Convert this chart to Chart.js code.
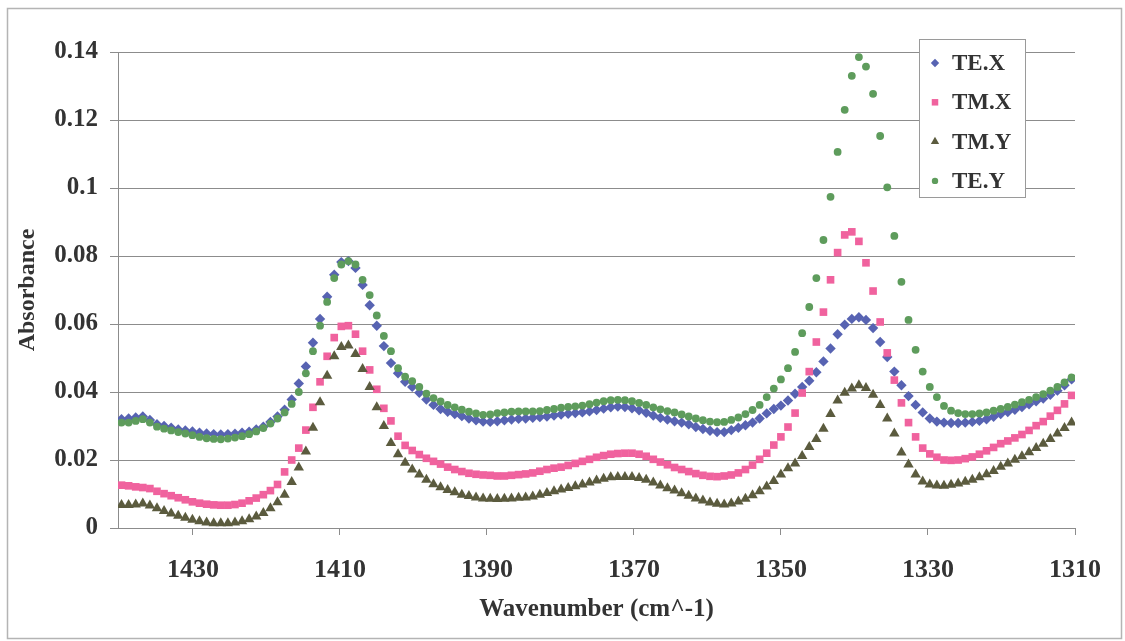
<!DOCTYPE html>
<html>
<head>
<meta charset="utf-8">
<title>Absorbance vs wavenumber</title>
<script src="https://cdn.jsdelivr.net/npm/chart.js@4/dist/chart.umd.min.js"></script>
<style>
  body { margin: 0; background: #fff; }
  .chart-container { position: relative; width: 1125px; height: 641px; }
</style>
</head>
<body>
<div class="chart-container"><canvas id="absChart"></canvas></div>
<script>
// Series (one value per sample, high to low wavenumber)
const seriesNames = ["TE.X", "TM.X", "TM.Y", "TE.Y"];
const xTickLabels = [1430, 1410, 1390, 1370, 1350, 1330, 1310];
const yTickLabels = [0, 0.02, 0.04, 0.06, 0.08, 0.1, 0.12, 0.14];
const firstWavenumber = 1439.72;
const wavenumberStep = 0.9646; // spectrometer sampling interval

const teX = [
  0.0320, 0.0322, 0.0325, 0.0328, 0.0318, 0.0305, 0.0300, 0.0295, 0.0290, 0.0287,
  0.0284, 0.0280, 0.0278, 0.0276, 0.0275, 0.0276, 0.0277, 0.0280, 0.0283, 0.0290,
  0.0298, 0.0312, 0.0328, 0.0348, 0.0378, 0.0425, 0.0475, 0.0545, 0.0615, 0.0680,
  0.0745, 0.0782, 0.0785, 0.0765, 0.0715, 0.0655, 0.0595, 0.0535, 0.0485, 0.0455,
  0.0430, 0.0415, 0.0398, 0.0378, 0.0362, 0.0350, 0.0342, 0.0335, 0.0329, 0.0322,
  0.0317, 0.0313, 0.0312, 0.0314, 0.0317, 0.0319, 0.0321, 0.0322, 0.0324, 0.0326,
  0.0328, 0.0331, 0.0334, 0.0336, 0.0338, 0.0340, 0.0343, 0.0347, 0.0351, 0.0355,
  0.0357, 0.0356, 0.0352, 0.0346, 0.0339, 0.0331, 0.0324, 0.0319, 0.0314, 0.0310,
  0.0305, 0.0297, 0.0291, 0.0286, 0.0282, 0.0282, 0.0288, 0.0295, 0.0302, 0.0310,
  0.0322, 0.0337, 0.0350, 0.0360, 0.0375, 0.0395, 0.0415, 0.0433, 0.0458, 0.0490,
  0.0528, 0.0570, 0.0598, 0.0615, 0.0620, 0.0612, 0.0588, 0.0547, 0.0503, 0.0460,
  0.0420, 0.0388, 0.0362, 0.0340, 0.0322, 0.0313, 0.0310, 0.0309, 0.0309, 0.0310,
  0.0312, 0.0315, 0.0320, 0.0327, 0.0335, 0.0341, 0.0348, 0.0356, 0.0364, 0.0373,
  0.0381, 0.0392, 0.0404, 0.0420, 0.0437
];

const tmX = [
  0.0126, 0.0124, 0.0121, 0.0119, 0.0116, 0.0108, 0.0101, 0.0095, 0.0089, 0.0083,
  0.0077, 0.0073, 0.0070, 0.0068, 0.0067, 0.0067, 0.0069, 0.0073, 0.0080, 0.0088,
  0.0098, 0.0110, 0.0128, 0.0165, 0.0200, 0.0235, 0.0288, 0.0355, 0.0430, 0.0505,
  0.0560, 0.0593, 0.0595, 0.0570, 0.0520, 0.0465, 0.0408, 0.0352, 0.0315, 0.0270,
  0.0243, 0.0228, 0.0216, 0.0205, 0.0196, 0.0188, 0.0179, 0.0172, 0.0166, 0.0161,
  0.0158, 0.0156, 0.0155, 0.0153, 0.0153, 0.0155, 0.0157, 0.0159, 0.0162, 0.0167,
  0.0172, 0.0176, 0.0179, 0.0184, 0.0190, 0.0196, 0.0202, 0.0208, 0.0213, 0.0217,
  0.0219, 0.0220, 0.0220, 0.0217, 0.0211, 0.0202, 0.0194, 0.0186, 0.0178, 0.0172,
  0.0166, 0.0160, 0.0155, 0.0152, 0.0151, 0.0153, 0.0156, 0.0162, 0.0172, 0.0185,
  0.0202, 0.0220, 0.0244, 0.0268, 0.0297, 0.0338, 0.0397, 0.0460, 0.0547, 0.0635,
  0.0730, 0.0810, 0.0862, 0.0871, 0.0843, 0.0780, 0.0697, 0.0606, 0.0515, 0.0435,
  0.0368, 0.0310, 0.0268, 0.0235, 0.0218, 0.0208, 0.0200, 0.0199, 0.0200, 0.0204,
  0.0209, 0.0217, 0.0227, 0.0237, 0.0248, 0.0256, 0.0265, 0.0275, 0.0287, 0.0301,
  0.0313, 0.0329, 0.0346, 0.0365, 0.0390
];

const tmY = [
  0.0068, 0.0068, 0.0069, 0.0072, 0.0066, 0.0058, 0.0050, 0.0043, 0.0036, 0.0030,
  0.0024, 0.0020, 0.0016, 0.0014, 0.0014, 0.0014, 0.0016, 0.0020, 0.0026, 0.0034,
  0.0044, 0.0058, 0.0076, 0.0098, 0.0135, 0.0178, 0.0225, 0.0295, 0.0370, 0.0448,
  0.0505, 0.0532, 0.0537, 0.0512, 0.0468, 0.0415, 0.0355, 0.0300, 0.0250, 0.0217,
  0.0192, 0.0172, 0.0157, 0.0142, 0.0129, 0.0120, 0.0112, 0.0105, 0.0098, 0.0094,
  0.0090, 0.0087, 0.0086, 0.0085, 0.0086, 0.0087, 0.0089, 0.0090, 0.0093, 0.0098,
  0.0103, 0.0108, 0.0113, 0.0118, 0.0123, 0.0128, 0.0134, 0.0140, 0.0145, 0.0149,
  0.0150, 0.0150, 0.0150, 0.0147, 0.0142, 0.0134, 0.0125, 0.0117, 0.0110, 0.0102,
  0.0095, 0.0087, 0.0081, 0.0075, 0.0071, 0.0069, 0.0072, 0.0078, 0.0086, 0.0096,
  0.0108, 0.0122, 0.0138, 0.0157, 0.0176, 0.0190, 0.0212, 0.0238, 0.0262, 0.0292,
  0.0335, 0.0375, 0.0398, 0.0410, 0.0420, 0.0412, 0.0392, 0.0362, 0.0322, 0.0278,
  0.0222, 0.0187, 0.0157, 0.0137, 0.0128, 0.0125, 0.0124, 0.0127, 0.0131, 0.0136,
  0.0142, 0.0149, 0.0158, 0.0168, 0.0180, 0.0190, 0.0201, 0.0211, 0.0223, 0.0235,
  0.0248, 0.0262, 0.0278, 0.0294, 0.0310
];

const teY = [
  0.0310, 0.0310, 0.0315, 0.0320, 0.0310, 0.0298, 0.0292, 0.0287, 0.0282, 0.0278,
  0.0273, 0.0268, 0.0264, 0.0262, 0.0261, 0.0263, 0.0266, 0.0270, 0.0276, 0.0284,
  0.0294, 0.0307, 0.0322, 0.0340, 0.0365, 0.0400, 0.0455, 0.0520, 0.0595, 0.0665,
  0.0735, 0.0775, 0.0785, 0.0775, 0.0730, 0.0685, 0.0625, 0.0565, 0.0520, 0.0470,
  0.0445, 0.0432, 0.0415, 0.0395, 0.0382, 0.0372, 0.0362, 0.0355, 0.0348, 0.0342,
  0.0337, 0.0333, 0.0334, 0.0338, 0.0340, 0.0342, 0.0343, 0.0343, 0.0343, 0.0344,
  0.0347, 0.0350, 0.0354, 0.0356, 0.0358, 0.0360, 0.0364, 0.0369, 0.0373, 0.0376,
  0.0377, 0.0376, 0.0373, 0.0368, 0.0362, 0.0355, 0.0349, 0.0344, 0.0340, 0.0334,
  0.0328, 0.0322, 0.0317, 0.0313, 0.0311, 0.0312, 0.0318, 0.0325, 0.0335, 0.0347,
  0.0362, 0.0385, 0.0410, 0.0437, 0.0470, 0.0518, 0.0573, 0.0650, 0.0735, 0.0847,
  0.0974, 0.1106, 0.1230, 0.1330, 0.1385, 0.1357, 0.1277, 0.1153, 0.1002, 0.0859,
  0.0724, 0.0612, 0.0524, 0.0460, 0.0415, 0.0385, 0.0359, 0.0345, 0.0338, 0.0335,
  0.0335, 0.0337, 0.0340, 0.0345, 0.0350, 0.0356, 0.0363, 0.0370, 0.0377, 0.0385,
  0.0394, 0.0404, 0.0415, 0.0428, 0.0443
];

const seriesValues = [teX, tmX, tmY, teY];

// look of each series (marker like the Excel original)
const seriesStyles = [
  { color: "#5763b2", shape: "rectRot", radius: 5.2, legendRadius: 4.2, order: 4 },
  { color: "#f0629e", shape: "rect", radius: 5.4, legendRadius: 4.6, order: 3 },
  { color: "#5b5b3e", shape: "triangle", radius: 6, legendRadius: 4.8, order: 2 },
  { color: "#5e9c5c", shape: "circle", radius: 3.9, legendRadius: 3.2, order: 1 },
];

const textColor = "#333333";
const lineColor = "#8c8c8c";
const serif = "'Liberation Serif', 'Times New Roman', serif";

const wavenumbers = teX.map((_, i) => firstWavenumber - i * wavenumberStep);

const datasets = seriesNames.map((name, k) => ({
  label: name,
  data: seriesValues[k].map((v, i) => ({ x: wavenumbers[i], y: v })),
  showLine: false,
  order: seriesStyles[k].order,
  pointStyle: seriesStyles[k].shape,
  pointRadius: seriesStyles[k].radius,
  pointBorderWidth: 0,
  pointBackgroundColor: seriesStyles[k].color,
  pointBorderColor: seriesStyles[k].color,
  pointHoverRadius: seriesStyles[k].radius,
}));

// white page with the thin grey frame Excel puts round the chart
const chartFrame = {
  id: "chartFrame",
  beforeDraw(chart) {
    const ctx = chart.ctx;
    ctx.save();
    ctx.fillStyle = "#ffffff";
    ctx.fillRect(0, 0, chart.width, chart.height);
    ctx.strokeStyle = "#b4b4b4";
    ctx.lineWidth = 1.5;
    ctx.strokeRect(7.5, 8.5, 1114, 630);
    ctx.restore();
  },
};

// boxed legend in the top right corner of the plot
const legendBox = {
  id: "legendBox",
  afterDatasetsDraw(chart) {
    const ctx = chart.ctx;
    const left = 919.5, top = 39.5, width = 106, height = 158;
    ctx.save();
    ctx.fillStyle = "#ffffff";
    ctx.fillRect(left, top, width, height);
    ctx.strokeStyle = "#9a9a9a";
    ctx.lineWidth = 1;
    ctx.strokeRect(left, top, width, height);
    ctx.font = "bold 23px " + serif;
    ctx.textBaseline = "middle";
    ctx.textAlign = "left";
    seriesNames.forEach((name, k) => {
      const y = 63 + k * 39.3;
      ctx.fillStyle = seriesStyles[k].color;
      Chart.helpers.drawPoint(ctx, {
        pointStyle: seriesStyles[k].shape,
        radius: seriesStyles[k].legendRadius,
        borderWidth: 0,
        rotation: 0,
      }, 935, y);
      ctx.fillStyle = textColor;
      ctx.fillText(name, 952, y + 1);
    });
    ctx.restore();
  },
};

const ctx = document.getElementById("absChart").getContext("2d");
new Chart(ctx, {
  type: "scatter",
  data: { datasets },
  options: {
    responsive: true,
    maintainAspectRatio: false,
    animation: false,
    layout: { padding: { left: 0, top: 52, right: 50, bottom: 0 } },
    plugins: {
      legend: { display: false },
      tooltip: { enabled: false },
    },
    scales: {
      x: {
        type: "linear",
        reverse: true,
        min: 1310,
        max: 1440.2,
        afterBuildTicks: (scale) => {
          scale.ticks = xTickLabels.map((v) => ({ value: v }));
        },
        afterFit: (scale) => { scale.height = 113; },
        border: { display: true, color: lineColor, width: 1 },
        grid: { drawOnChartArea: false, drawTicks: true, tickLength: 7, color: lineColor },
        ticks: {
          autoSkip: false,
          maxRotation: 0,
          padding: 22,
          color: textColor,
          font: { family: serif, size: 26, weight: "bold", lineHeight: 1 },
          callback: (v) => String(v),
        },
        title: {
          display: true,
          text: "Wavenumber (cm^-1)",
          color: textColor,
          font: { family: serif, size: 25, weight: "bold", lineHeight: 1 },
          padding: { top: 0, bottom: 19 },
        },
      },
      y: {
        min: 0,
        max: 0.14,
        afterBuildTicks: (scale) => {
          scale.ticks = yTickLabels.map((v) => ({ value: v }));
        },
        afterFit: (scale) => { scale.width = 118; },
        border: { display: true, color: lineColor, width: 1 },
        grid: { color: lineColor, lineWidth: 1, drawTicks: true, tickLength: 8 },
        ticks: {
          padding: 12,
          color: textColor,
          font: { family: serif, size: 25, weight: "bold", lineHeight: 1 },
          callback: (v) => String(+v.toFixed(2)),
        },
        title: {
          display: true,
          text: "Absorbance",
          color: textColor,
          font: { family: serif, size: 24, weight: "bold", lineHeight: 1 },
          padding: { top: 16, bottom: 0 },
        },
      },
    },
  },
  plugins: [chartFrame, legendBox],
});
</script>
</body>
</html>
